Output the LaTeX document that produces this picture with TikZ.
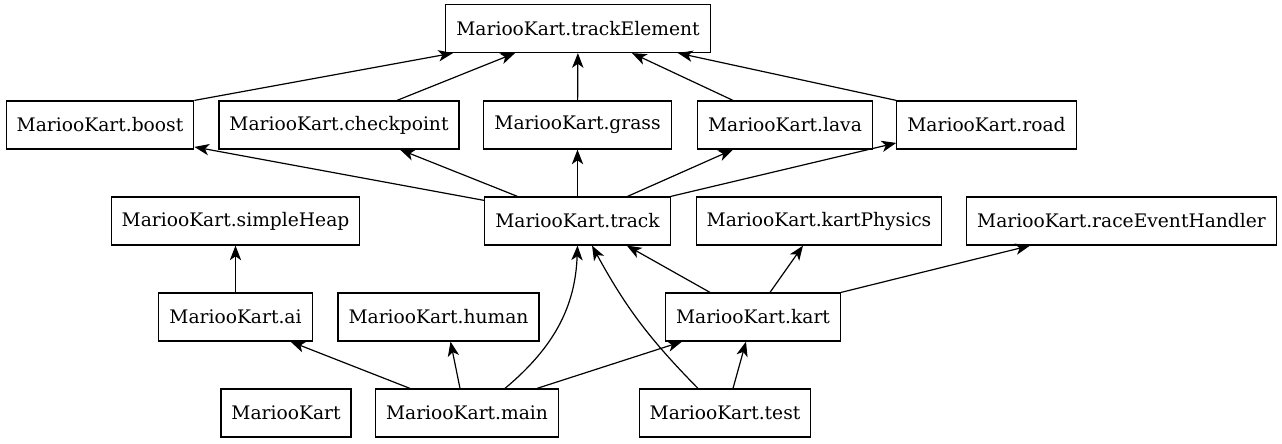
\documentclass[tikz,border=0pt]{standalone}
\usepackage{fontspec}
\setmainfont{DejaVu Serif}
\usetikzlibrary{arrows.meta}

\begin{document}
\begin{tikzpicture}[x=0.75pt,y=-0.75pt,->,>={Stealth[length=11pt,width=8.5pt,inset=3pt]},line width=0.9pt,
	module/.style={draw,rectangle,minimum height=36pt,inner xsep=7.9pt,font=\fontsize{14}{16}\selectfont}]
	\useasboundingbox (0,0) rectangle (1282,443);
	% top level
	\node[module] (elem) at (578,28.5) {MariooKart.trackElement};
	% track elements
	\node[module] (boost) at (100,125) {MariooKart.boost};
	\node[module] (checkpoint) at (339,125) {MariooKart.checkpoint};
	\node[module] (grass) at (577.5,125) {MariooKart.grass};
	\node[module] (lava) at (785,125) {MariooKart.lava};
	\node[module] (road) at (986.5,125) {MariooKart.road};
	% middle row
	\node[module] (heap) at (235.5,221) {MariooKart.simpleHeap};
	\node[module] (track) at (577.5,221) {MariooKart.track};
	\node[module] (physics) at (819,221) {MariooKart.kartPhysics};
	\node[module] (race) at (1121.5,221) {MariooKart.raceEventHandler};
	% players
	\node[module] (ai) at (235.5,317) {MariooKart.ai};
	\node[module] (human) at (438.5,317) {MariooKart.human};
	\node[module] (kart) at (753,317) {MariooKart.kart};
	% bottom row
	\node[module] (pkg) at (286,413) {MariooKart};
	\node[module] (main) at (467,413) {MariooKart.main};
	\node[module] (test) at (725,413) {MariooKart.test};

	\draw (boost.north east) -- ([xshift=-93.75pt]elem.south);
	\draw ([xshift=43.5pt]checkpoint.north) -- ([xshift=-47.25pt]elem.south);
	\draw (grass) -- (elem);
	\draw ([xshift=-39pt]lava.north) -- ([xshift=40.5pt]elem.south);
	\draw (road.north west) -- ([xshift=75pt]elem.south);

	\draw ([yshift=-3pt]track.north west) -- ([yshift=2pt]boost.south east);
	\draw ([xshift=-45pt]track.north) -- ([xshift=45.75pt]checkpoint.south);
	\draw (track) -- (grass);
	\draw ([xshift=37.5pt]track.north) -- ([xshift=-39pt]lava.south);
	\draw (track.north east) -- ([yshift=5pt]road.south west);

	\draw (ai) -- (heap);
	\draw ([xshift=-42.75pt]main.north) -- ([xshift=41.25pt]ai.south);
	\draw ([xshift=-5.25pt]main.north) -- ([xshift=9pt]human.south);
	\draw ([xshift=28.5pt]main.north) to[out=40,in=-92] (track.south);
	\draw ([xshift=52.5pt]main.north) -- ([xshift=-53.25pt]kart.south);
	\draw ([xshift=-20.25pt]test.north) to[bend left=8] ([xshift=10.9pt]track.south);
	\draw ([xshift=6pt]test.north) -- ([xshift=-5.25pt]kart.south);

	\draw ([xshift=-32.25pt]kart.north) -- ([xshift=37pt]track.south);
	\draw ([xshift=12.75pt]kart.north) -- ([xshift=-12pt]physics.south);
	\draw (kart.north east) -- ([xshift=-68.6pt]race.south);
\end{tikzpicture}
\end{document}
